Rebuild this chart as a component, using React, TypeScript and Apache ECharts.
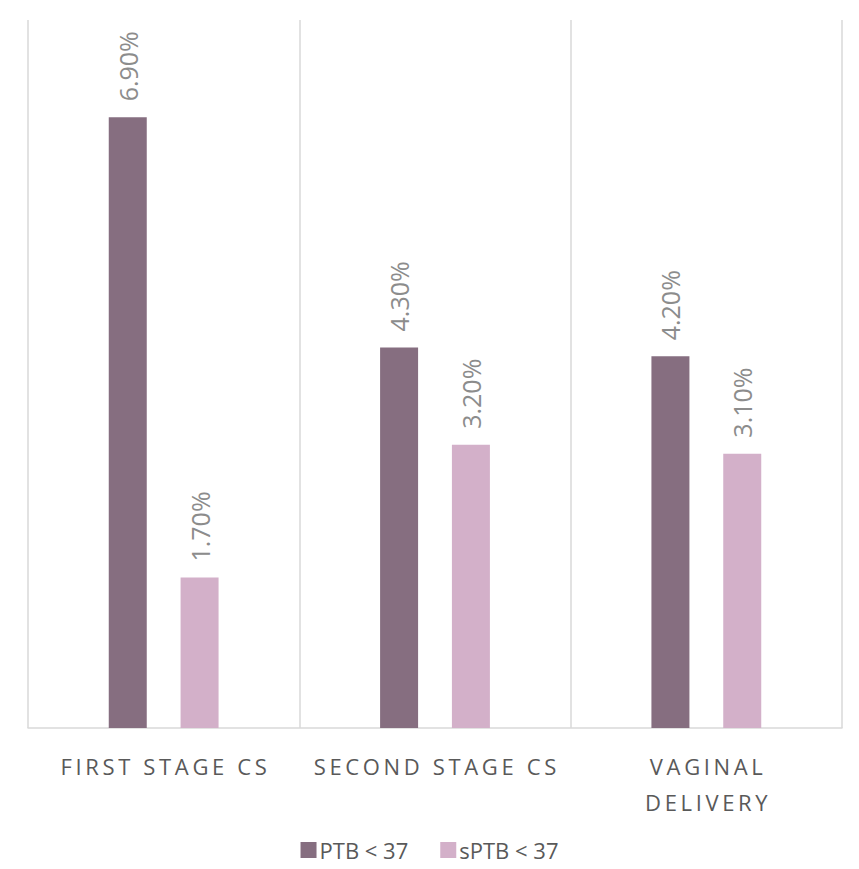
import React, { useEffect, useRef } from "react";
import * as echarts from "echarts";

const categories = ["FIRST STAGE CS", "SECOND STAGE CS", "VAGINAL\nDELIVERY"];
const ptbValues = [6.9, 4.3, 4.2];
const sptbValues = [1.7, 3.2, 3.1];
const seriesNames = ["PTB < 37", "sPTB < 37"];

export default function App() {
  const ref = useRef<HTMLDivElement>(null);
  useEffect(() => {
    const chart = echarts.init(ref.current!, undefined, { renderer: "svg" });
    const label = {
      show: true,
      position: "top" as const,
      rotate: 90,
      align: "left" as const,
      verticalAlign: "middle" as const,
      distance: 16,
      color: "#8c8c8c",
      fontSize: 25,
      fontFamily: "Open Sans",
      formatter: (p: any) => p.value.toFixed(2) + "%",
    };
    chart.setOption({
      animation: false,
      backgroundColor: "#ffffff",
      grid: { left: 28, right: 17, top: 20, bottom: 141 },
      legend: {
        bottom: 3,
        left: "center",
        itemWidth: 16,
        itemHeight: 16,
        itemGap: 32,
        icon: "rect",
        textStyle: { color: "#595959", fontSize: 22, fontFamily: "Open Sans", padding: [0, 0, 0, -2] },
        data: seriesNames,
      },
      xAxis: {
        type: "category",
        data: categories,
        axisLine: { show: true, lineStyle: { color: "#d9d9d9", width: 1.5 } },
        axisTick: { show: false },
        splitLine: { show: true, lineStyle: { color: "#d9d9d9", width: 1.5 } },
        axisLabel: {
          color: "#595959",
          fontSize: 22,
          fontFamily: "Open Sans",
          margin: 20,
          lineHeight: 36,
          interval: 0,
          formatter: (v: string) => v.split("").join("\u2009").replace(/\u2009\n\u2009/g, "\n"),
        },
      },
      yAxis: {
        type: "value",
        min: 0,
        max: 8,
        show: false,
        splitLine: { show: false },
      },
      series: [
        {
          name: seriesNames[0],
          type: "bar",
          data: ptbValues,
          barWidth: 38,
          barGap: "89%",
          itemStyle: { color: "#866e80" },
          label,
        },
        {
          name: seriesNames[1],
          type: "bar",
          data: sptbValues,
          barWidth: 38,
          itemStyle: { color: "#d3b0c9" },
          label,
        },
      ],
    });
    return () => chart.dispose();
  }, []);
  return (
    <div
      ref={ref}
      style={{ position: "fixed", left: 0, top: 0, width: 859, height: 869 }}
    />
  );
}
